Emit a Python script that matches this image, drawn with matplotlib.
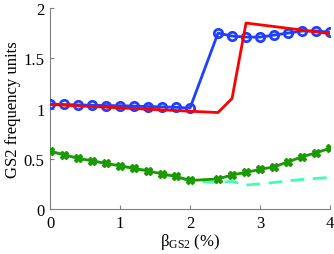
import matplotlib.pyplot as plt

plt.rcParams['font.family'] = ['Liberation Serif', 'DejaVu Serif']
plt.rcParams['mathtext.fontset'] = 'custom'
plt.rcParams['mathtext.rm'] = 'Liberation Serif'
plt.rcParams['mathtext.it'] = 'Liberation Serif:italic'

# blue curve (circles)
x_blue = [0, 0.2, 0.4, 0.6, 0.8, 1.0, 1.2, 1.4, 1.6, 1.8, 2.0,
          2.4, 2.6, 2.8, 3.0, 3.2, 3.4, 3.6, 3.8, 4.0]
y_blue = [1.045, 1.04, 1.036, 1.032, 1.03, 1.028, 1.024, 1.02, 1.016, 1.012, 1.005,
          1.75, 1.72, 1.71, 1.71, 1.73, 1.75, 1.77, 1.77, 1.76]

# red curve
x_red = [0, 2.4, 2.6, 2.8, 4.0]
y_red = [1.04, 0.96, 1.10, 1.85, 1.745]

# dark green curve (crosses)
x_green = [0, 0.2, 0.4, 0.6, 0.8, 1.0, 1.2, 1.4, 1.6, 1.8, 2.0,
           2.4, 2.6, 2.8, 3.0, 3.2, 3.4, 3.6, 3.8, 4.0]
y_green = [0.575, 0.54, 0.505, 0.48, 0.455, 0.43, 0.405, 0.38, 0.35, 0.325, 0.285,
           0.30, 0.34, 0.365, 0.395, 0.42, 0.47, 0.52, 0.56, 0.605]

# light green dashed curve
x_light = [0, 0.2, 0.4, 0.6, 0.8, 1.0, 1.2, 1.4, 1.6, 1.8, 2.0,
           2.4, 2.6, 2.8, 3.0, 3.2, 3.4, 3.6, 3.8, 4.0]
y_light = [0.575, 0.54, 0.505, 0.48, 0.455, 0.43, 0.405, 0.38, 0.35, 0.32, 0.28,
           0.265, 0.275, 0.24, 0.25, 0.265, 0.28, 0.295, 0.305, 0.315]

fig = plt.figure(figsize=(3.34, 2.55), dpi=100)
ax = fig.add_axes([0.15, 0.176, 0.838, 0.789])

ax.plot(x_blue, y_blue, color='#2040ff', lw=2, marker='o', ms=6,
        mfc='none', mew=2, zorder=3)
ax.plot(x_red, y_red, color='#ff0000', lw=2, zorder=4)
ax.plot(x_light, y_light, color='#40ffb0', lw=2, ls='--', dashes=(5, 3), zorder=2)
ax.plot(x_green, y_green, color='#1a9a00', lw=2, marker='X', ms=6, zorder=3)

ax.set_xlim(0, 4)
ax.set_ylim(0, 2)
ax.set_xticks([0, 1, 2, 3, 4])
ax.set_xticklabels(['0', '1', '2', '3', '4'])
ax.set_yticks([0, 0.5, 1, 1.5, 2])
ax.set_yticklabels(['0', '0.5', '1', '1.5', '2'])
ax.tick_params(direction='in', length=3, color='gray', labelsize=12, pad=4)

for s in ['top', 'right']:
    ax.spines[s].set_visible(False)
for s in ['left', 'bottom']:
    ax.spines[s].set_color('gray')

ax.set_ylabel('GS2 frequency units', fontsize=12, labelpad=2)
ax.set_xlabel(r'$\mathrm{\beta_{GS2}}$ (%)', fontsize=12, labelpad=0)

plt.savefig('out.png', dpi=100)
